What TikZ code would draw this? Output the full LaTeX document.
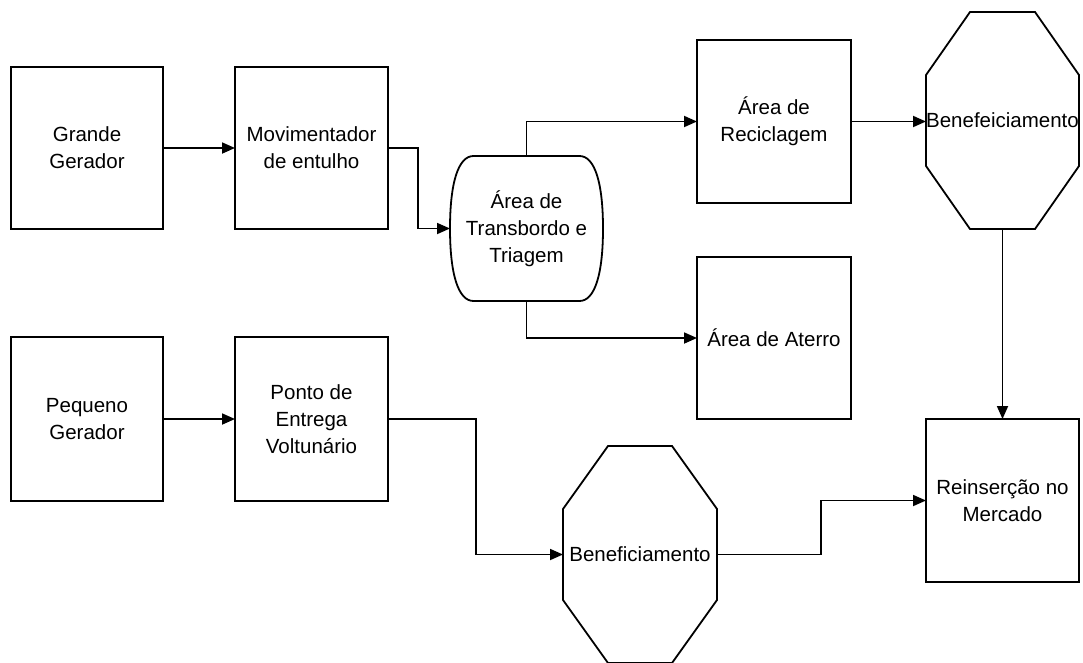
\documentclass[tikz,border=0pt]{standalone}
\usepackage{fontspec}
\setmainfont{Liberation Sans}
\usetikzlibrary{arrows.meta,calc}
\begin{document}
\begin{tikzpicture}[x=1pt,y=-1pt,
  every node/.style={font=\fontsize{20.5}{27}\selectfont, align=center, inner sep=0pt, outer sep=0pt},
  boxnode/.style={draw, line width=1.8pt, rectangle},
  shapenode/.style={rectangle},
  ln/.style={line width=1.8pt, line join=miter},
  arr/.style={line width=1.8pt, -{Triangle[length=13pt,width=11pt]}}]
\fill[white] (0,0) rectangle (1083,662);
\useasboundingbox (0,0) rectangle (1083,662);

% boxes
\node[boxnode, minimum width=152pt, minimum height=162pt] (gg) at (87,148) {Grande\\Gerador};
\node[boxnode, minimum width=153pt, minimum height=162pt] (mov) at (311.5,148) {Movimentador\\de entulho};
\node[shapenode, minimum width=153pt, minimum height=145pt] (trans) at (526.5,228.5) {Área de\\Transbordo e\\Triagem};
\node[boxnode, minimum width=154pt, minimum height=163pt] (rec) at (774,121.5) {Área de\\Reciclagem};
\node[boxnode, minimum width=154pt, minimum height=162pt] (ate) at (774,338) {Área de Aterro};
\node[shapenode, minimum width=153pt, minimum height=217pt] (ben1) at (1002.5,120.5) {Benefeiciamento};
\node[boxnode, minimum width=152pt, minimum height=164pt] (pg) at (87,419) {Pequeno\\Gerador};
\node[boxnode, minimum width=153pt, minimum height=164pt] (ped) at (311.5,419) {Ponto de\\Entrega\\Voltunário};
\node[shapenode, minimum width=154pt, minimum height=217pt] (ben2) at (640,554.5) {Beneficiamento};
\node[boxnode, minimum width=153pt, minimum height=163pt] (reins) at (1002.5,500.5) {Reinserção no\\Mercado};

% stadium outline
\draw[ln] ($(trans.north west)+(23.5,0)$) -- ($(trans.north east)+(-23.5,0)$)
  .. controls ($(trans.north east)+(-8,0)$) and ($(trans.east)+(0,-45)$) .. (trans.east)
  .. controls ($(trans.east)+(0,45)$) and ($(trans.south east)+(-8,0)$) .. ($(trans.south east)+(-23.5,0)$)
  -- ($(trans.south west)+(23.5,0)$)
  .. controls ($(trans.south west)+(8,0)$) and ($(trans.west)+(0,45)$) .. (trans.west)
  .. controls ($(trans.west)+(0,-45)$) and ($(trans.north west)+(8,0)$) .. cycle;

% octagons
\foreach \o/\dx/\dy in {ben1/44/63, ben2/45/63}{
  \draw[ln] ($(\o.north west)+(\dx,0)$) -- ($(\o.north east)+(-\dx,0)$) -- ($(\o.north east)+(0,\dy)$)
    -- ($(\o.south east)+(0,-\dy)$) -- ($(\o.south east)+(-\dx,0)$) -- ($(\o.south west)+(\dx,0)$)
    -- ($(\o.south west)+(0,-\dy)$) -- ($(\o.north west)+(0,\dy)$) -- cycle;
}

% connectors
\draw[arr] (gg) -- (mov);
\draw[arr] (mov.east) -- ++(30,0) |- (trans.west);
\draw[arr] (trans.north) |- (rec.west);
\draw[arr] (trans.south) |- (ate.west);
\draw[arr] (rec.east) -- (rec.east -| ben1.west);
\draw[arr] (ben1.south) -- (reins.north);
\draw[arr] (pg) -- (ped);
\draw[arr] (ped.east) -- ++(88,0) |- (ben2.west);
\draw[arr] (ben2.east) -- ++(104,0) |- (reins.west);
\end{tikzpicture}
\end{document}
